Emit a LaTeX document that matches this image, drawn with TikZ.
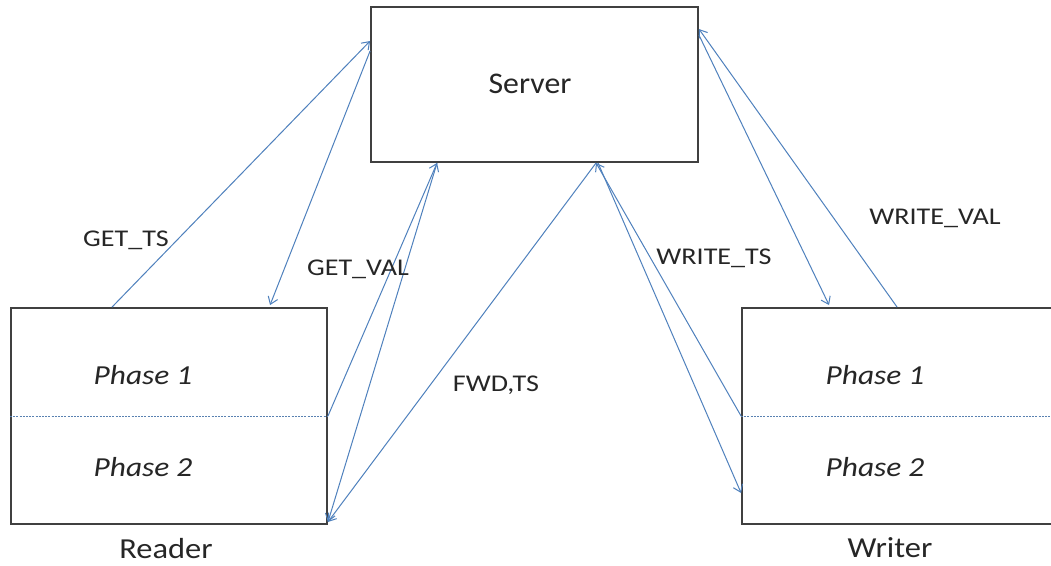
\documentclass[tikz,border=0pt]{standalone}
\usepackage{fontspec}
\setmainfont{Carlito}
\usepackage{graphicx}
\usetikzlibrary{arrows.meta}
\definecolor{msgblue}{RGB}{79,129,189}
\definecolor{boxgray}{RGB}{64,64,64}
\tikzset{
  box/.style={draw=boxgray, line width=1.9pt, rectangle, inner sep=0pt},
  msg/.style={draw=msgblue, line width=1pt, -{Straight Barb[length=7pt,width=10pt]}},
  phaseline/.style={draw=msgblue!80!gray, line width=0.8pt, dash pattern=on 2pt off 1.2pt},
  lbl/.style={font=\fontsize{24}{27}\selectfont, text=black!85, inner sep=0pt},
  phasetxt/.style={font=\fontsize{27.5}{30}\selectfont\itshape, text=black!85, inner sep=0pt},
}
\newcommand{\wide}[2][1.17]{\scalebox{#1}[1]{#2}}
\begin{document}
\begin{tikzpicture}[x=1pt,y=-1pt]
  \useasboundingbox (0,0) rectangle (1051,565);
  \clip (0,0) rectangle (1051,565);
  \fill[white] (0,0) rectangle (1051,565);

  % the three parties
  \node[box, minimum width=327pt, minimum height=155pt] (server) at (534.5,84.5) {};
  \node[box, minimum width=316pt, minimum height=216pt] (reader) at (169,416) {};
  \node[box, minimum width=360pt, minimum height=216pt] (writer) at (922,416) {};

  % phase separators
  \draw[phaseline] (reader.west) -- (reader.east);
  \draw[phaseline] (writer.west) -- (writer.east);

  % texts
  \node[lbl, font=\fontsize{30}{33}\selectfont] (srvtxt) at (530,84) {\wide[1.06]{Server}};
  \node[phasetxt] (rp1) at (143,375) {\wide[1.14]{Phase 1}};
  \node[phasetxt] (rp2) at (143,467) {\wide[1.14]{Phase 2}};
  \node[phasetxt] (wp1) at (875,375) {\wide[1.14]{Phase 1}};
  \node[phasetxt] (wp2) at (875,467) {\wide[1.14]{Phase 2}};
  \node[lbl, font=\fontsize{29}{32}\selectfont] (rname) at (166,549) {\wide[1.12]{Reader}};
  \node[lbl, font=\fontsize{29}{32}\selectfont] (wname) at (890,548) {\wide[1.12]{Writer}};

  % reader messages
  \draw[msg] ([xshift=102pt]reader.north west) -- ([yshift=-35pt]server.north west);
  \draw[msg] ([yshift=-45pt]server.north west) -- ([xshift=260pt,yshift=2pt]reader.north west);
  \draw[msg] (reader.east) -- ([xshift=67pt]server.south west);
  \draw[msg] ([xshift=67pt]server.south west) -- ([yshift=3pt]reader.south east);
  \draw[msg] ([xshift=226pt]server.south west) -- ([yshift=3pt]reader.south east);

  % writer messages
  \draw[msg] (writer.west) -- ([xshift=226pt]server.south west);
  \draw[msg] ([xshift=228pt]server.south west) -- ([yshift=32pt]writer.south west);
  \draw[msg] ([xshift=156pt]writer.north west) -- ([yshift=-23pt]server.north east);
  \draw[msg] ([yshift=-29pt]server.north east) -- ([xshift=88pt,yshift=2pt]writer.north west);

  % message labels
  \node[lbl] (getts) at (126,240) {\wide{GET\_TS}};
  \node[lbl] (getval) at (358,269) {\wide{GET\_VAL}};
  \node[lbl] (fwdts) at (496,385) {\wide{FWD,TS}};
  \node[lbl] (writets) at (714,258) {\wide{WRITE\_TS}};
  \node[lbl] (writeval) at (935,218) {\wide{WRITE\_VAL}};
\end{tikzpicture}
\end{document}
